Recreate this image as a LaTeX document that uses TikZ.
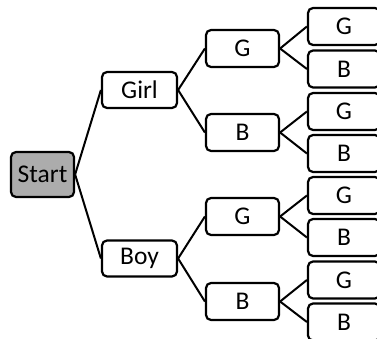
\documentclass[tikz,border=0pt]{standalone}
\usepackage{fontspec}
\setmainfont{Carlito}
\begin{document}
\begin{tikzpicture}[x=1pt,y=1pt,
  box/.style={draw=black, line width=2.2pt, rounded corners=5pt, fill=white,
    inner sep=0pt, font=\fontsize{25.5}{25.5}\selectfont, text=black},
  startbox/.style={box, fill=gray!65, minimum width=63pt, minimum height=45pt},
  midbox/.style={box, minimum width=75pt, minimum height=36pt},
  gbbox/.style={box, minimum width=73pt, minimum height=37pt},
  leafbox/.style={box, minimum width=72pt, minimum height=37pt},
  conn/.style={draw=black, line width=2pt}]
\useasboundingbox (0,0) rectangle (377,-339);
\clip (0,0) rectangle (377,-339);
\node[startbox] (start) at (42.5,-174.5) {Start};
\node[midbox] (girl) at (139.5,-90) {Girl};
\node[midbox] (boy) at (139.5,-258.5) {Boy};
\node[gbbox] (gg) at (242.5,-48.5) {G};
\node[gbbox] (gb) at (242.5,-132.5) {B};
\node[gbbox] (bg) at (242.5,-216.5) {G};
\node[gbbox] (bb) at (242.5,-301.5) {B};
\node[leafbox] (l1) at (344,-26.5) {G};
\node[leafbox] (l2) at (344,-69) {B};
\node[leafbox] (l3) at (344,-111.5) {G};
\node[leafbox] (l4) at (344,-153.5) {B};
\node[leafbox] (l5) at (344,-195.5) {G};
\node[leafbox] (l6) at (344,-237.5) {B};
\node[leafbox] (l7) at (344,-280) {G};
\node[leafbox] (l8) at (344,-322) {B};
\draw[conn] (start.east) -- (girl.west);
\draw[conn] (start.east) -- (boy.west);
\draw[conn] (girl.east) -- (gg.west);
\draw[conn] (girl.east) -- (gb.west);
\draw[conn] (boy.east) -- (bg.west);
\draw[conn] (boy.east) -- (bb.west);
\draw[conn] (gg.east) -- (l1.west);
\draw[conn] (gg.east) -- (l2.west);
\draw[conn] (gb.east) -- (l3.west);
\draw[conn] (gb.east) -- (l4.west);
\draw[conn] (bg.east) -- (l5.west);
\draw[conn] (bg.east) -- (l6.west);
\draw[conn] (bb.east) -- (l7.west);
\draw[conn] (bb.east) -- (l8.west);
\end{tikzpicture}
\end{document}
